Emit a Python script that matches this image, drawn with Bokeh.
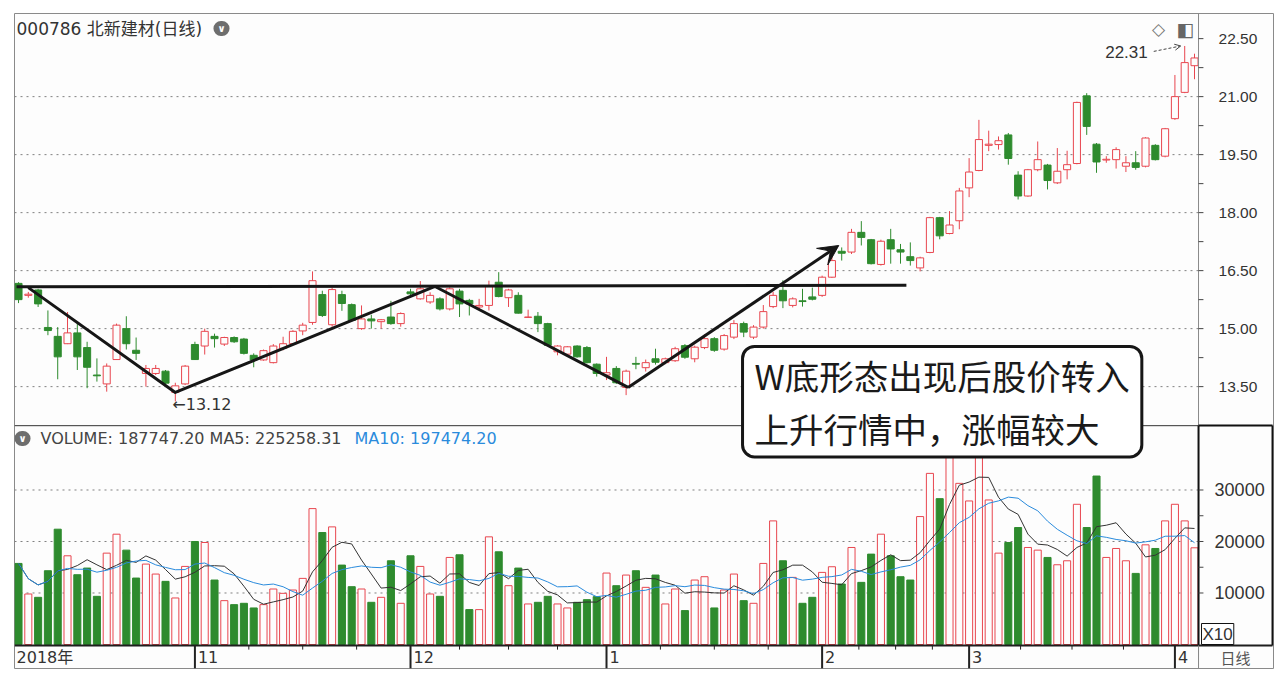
import pandas as pd
from bokeh.plotting import figure
from bokeh.models import Range1d, ColumnDataSource, Label, Arrow, VeeHead, OpenHead
from bokeh.core.properties import value
from bokeh.embed import file_html
from bokeh.resources import INLINE

# 000786 北新建材, daily bars 2018-10-08 .. 2019-04-03 (121 sessions)
opens = [16.17, 15.86, 16.00, 15.03, 14.80, 14.61, 14.89, 14.51, 13.80, 13.57,
         14.20, 15.00, 14.44, 13.84, 13.84, 13.90, 13.35, 13.57, 14.59, 14.55,
         14.80, 14.60, 14.77, 14.73, 14.31, 14.19, 14.12, 14.49, 14.61, 14.94,
         15.16, 15.88, 15.10, 15.88, 15.62, 15.00, 15.25, 15.18, 15.30, 15.13,
         15.95, 15.77, 15.69, 15.77, 15.51, 15.97, 15.73, 15.56, 15.60, 16.20,
         15.80, 15.86, 15.29, 15.32, 15.13, 14.40, 14.34, 14.55, 14.51, 14.08,
         13.80, 13.97, 13.48, 14.10, 13.99, 14.22, 14.12, 14.17, 14.56, 14.22,
         14.51, 14.74, 14.47, 14.78, 15.13, 14.78, 15.04, 15.57, 15.99, 15.60,
         15.72, 15.82, 15.86, 16.33, 17.00, 16.98, 17.49, 17.30, 16.66, 17.30,
         17.04, 16.86, 16.57, 16.97, 17.87, 17.46, 17.79, 18.64, 19.09, 19.74,
         19.76, 20.01, 18.97, 18.43, 19.11, 19.23, 18.77, 19.11, 19.27, 21.02,
         19.77, 19.36, 19.37, 19.20, 19.29, 19.20, 19.74, 19.46, 20.43, 21.11,
         21.80]
highs = [16.20, 15.95, 16.03, 15.47, 15.04, 15.43, 15.13, 14.66, 14.23, 14.10,
         15.13, 15.32, 14.77, 14.06, 14.06, 13.93, 13.60, 14.06, 14.66, 15.00,
         14.87, 14.79, 14.80, 14.76, 14.36, 14.46, 14.60, 14.79, 14.96, 15.15,
         16.48, 15.98, 16.06, 15.98, 15.65, 15.60, 15.36, 15.25, 15.72, 15.42,
         16.03, 16.23, 15.94, 15.81, 16.07, 16.03, 15.77, 15.77, 16.24, 16.46,
         16.03, 15.94, 15.49, 15.43, 15.15, 14.57, 14.55, 14.57, 14.55, 14.10,
         14.27, 14.03, 13.94, 14.27, 14.20, 14.48, 14.25, 14.53, 14.60, 14.56,
         14.85, 14.78, 14.86, 15.22, 15.18, 15.09, 15.61, 15.95, 16.25, 15.81,
         16.03, 16.06, 16.37, 16.89, 17.10, 17.58, 17.78, 17.32, 17.30, 17.58,
         17.19, 17.23, 16.86, 17.89, 17.89, 18.04, 18.64, 19.41, 20.40, 20.12,
         19.97, 20.06, 19.07, 19.13, 19.84, 19.26, 19.67, 19.60, 20.87, 21.09,
         19.80, 19.46, 19.69, 19.46, 19.59, 19.95, 19.77, 20.19, 21.56, 22.31,
         22.11]
lows = [15.66, 15.80, 15.56, 14.83, 13.69, 14.60, 13.93, 13.46, 13.63, 13.37,
        14.19, 14.46, 14.19, 13.50, 13.80, 13.55, 13.12, 13.54, 14.19, 14.33,
        14.51, 14.55, 14.63, 14.33, 14.00, 14.17, 14.10, 14.44, 14.57, 14.83,
        15.10, 15.30, 15.05, 15.46, 15.18, 14.97, 15.00, 15.00, 15.10, 15.05,
        15.81, 15.75, 15.64, 15.47, 15.47, 15.30, 15.34, 15.51, 15.47, 15.81,
        15.56, 15.39, 15.29, 14.91, 14.55, 14.31, 14.31, 14.25, 14.10, 13.76,
        13.67, 13.57, 13.28, 13.95, 13.89, 14.07, 14.08, 14.14, 14.22, 14.13,
        14.47, 14.40, 14.43, 14.73, 14.78, 14.73, 15.00, 15.53, 15.53, 15.55,
        15.57, 15.73, 15.82, 16.31, 16.76, 16.93, 17.15, 16.66, 16.63, 16.68,
        16.68, 16.63, 16.48, 16.95, 17.31, 17.44, 17.57, 18.40, 19.07, 19.59,
        19.63, 19.24, 18.34, 18.41, 19.07, 18.60, 18.74, 18.86, 19.25, 20.01,
        19.03, 19.29, 19.14, 19.05, 19.11, 19.17, 19.35, 19.43, 20.40, 21.09,
        21.45]
closes = [15.75, 15.89, 15.64, 14.95, 14.27, 14.89, 14.27, 14.00, 13.78, 14.03,
          15.09, 14.61, 14.36, 13.97, 13.97, 13.59, 13.52, 14.03, 14.20, 14.93,
          14.74, 14.77, 14.66, 14.36, 14.19, 14.43, 14.55, 14.61, 14.93, 15.09,
          16.24, 15.34, 16.01, 15.65, 15.21, 15.25, 15.20, 15.23, 15.13, 15.39,
          15.90, 16.03, 15.86, 15.51, 16.03, 15.64, 15.64, 15.60, 16.11, 15.83,
          16.00, 15.40, 15.30, 15.13, 14.57, 14.55, 14.53, 14.27, 14.12, 13.84,
          13.86, 13.60, 13.90, 14.08, 14.12, 14.13, 14.22, 14.48, 14.26, 14.52,
          14.74, 14.44, 14.82, 15.13, 14.91, 15.04, 15.44, 15.86, 15.72, 15.77,
          15.70, 15.76, 16.33, 16.76, 16.95, 17.49, 17.36, 16.68, 17.26, 17.06,
          16.98, 16.76, 16.83, 17.87, 17.40, 17.68, 18.56, 19.05, 19.89, 19.77,
          19.86, 19.40, 18.43, 19.11, 19.37, 18.83, 19.07, 19.24, 20.85, 20.23,
          19.31, 19.38, 19.63, 19.29, 19.17, 19.93, 19.37, 20.17, 21.00, 21.88,
          22.00]
# volume as drawn against the axis (axis is marked X10)
vols = [15742, 9806, 9161, 14323, 22387, 17226, 13548, 14839, 9355, 17742,
        21419, 18323, 12903, 15613, 13677, 12258, 9032, 15161, 20000, 19806,
        12516, 8516, 7742, 8000, 7097, 7742, 10774, 9935, 10581, 12839,
        26387, 21742, 22839, 15419, 11226, 10774, 8194, 9161, 16258, 8000,
        17226, 15161, 9806, 9355, 16903, 17419, 6774, 6774, 20903, 18000,
        11419, 14839, 7871, 8194, 9355, 7871, 7097, 8194, 8710, 9290,
        13871, 11419, 13484, 14323, 11097, 13484, 7871, 10774, 6581, 12516,
        13161, 7097, 10581, 13677, 8516, 8000, 15742, 24000, 16258, 13032,
        8000, 9161, 14000, 15097, 11742, 18839, 12065, 17548, 21419, 17226,
        13161, 12516, 24839, 33226, 28323, 37000, 31290, 27871, 38000, 28065,
        17742, 19806, 22710, 18839, 18323, 16903, 15484, 16258, 27226, 22710,
        32710, 16903, 18645, 16258, 13806, 19355, 18645, 24000, 27226, 24000,
        18775]

month_starts = [18, 40, 60, 82, 97, 118]
month_labels = ["11", "12", "1", "2", "3", "4"]
year_label = "2018年"

price_ticks = [13.5, 15.0, 16.5, 18.0, 19.5, 21.0, 22.5]
price_grid = [13.5, 15.0, 16.5, 18.0, 19.5, 21.0]
vol_ticks = [10000, 20000, 30000]
vol_minor = [15000, 25000]

# hand-drawn W bottom: (bar index, price)
w_x = [1.0, 16.0, 42.5, 62.2]
w_y = [16.06, 13.35, 16.09, 13.48]
w_tip = (83.7, 17.15)
neck_x = [-0.2, 90.6]
neck_y = [16.08, 16.12]

title = "000786 北新建材(日线)"
vol_text = "VOLUME: 187747.20 MA5: 225258.31"
ma10_text = "MA10: 197474.20"
note = "W底形态出现后股价转入\n上升行情中，涨幅较大"

RED = "#e8464f"
GREEN = "#2e8b2e"
BG = "#fdfdfd"
BLUE = "#2a8bdc"
INK = "#161616"
FRAME = "#8a8a8a"
UI_FONT = "DejaVu Sans, Noto Sans CJK SC"

# layout in chart units: the frame also holds the price/volume scale column
# and the date strip, so every piece can be drawn with glyphs
CHART_R = 120.41      # right edge of the candle area
CELL_R = 127.96       # right edge of the scale column
SPLIT_P = 12.49       # price panel bottom
SPLIT_V = 42520       # same line in volume units
AXIS_V = -194         # date axis line
BOTTOM_V = -4660      # bottom of the date strip
DATE_V = -2524        # date label line
PRICE_LBL_X = 122.45
VOL_LBL_X = 122.05

idx = list(range(len(opens)))
up = [c >= o for o, c in zip(opens, closes)]
vs = pd.Series(vols, dtype=float)
src = ColumnDataSource(dict(
    x=idx, high=highs, low=lows,
    top=[max(o, c) for o, c in zip(opens, closes)],
    bottom=[min(o, c) for o, c in zip(opens, closes)],
    vol=vols,
    color=[RED if u else GREEN for u in up],
    fill=[BG if u else GREEN for u in up],
    ma5=vs.rolling(5, min_periods=1).mean().tolist(),
    ma10=vs.rolling(10, min_periods=1).mean().tolist(),
))

xr = Range1d(-0.41, 128.06)
p = figure(width=1278, height=672, x_range=xr, y_range=Range1d(6.21, 23.15),
           x_axis_location=None, y_axis_location=None,
           toolbar_location=None, output_backend="svg",
           min_border_left=14, min_border_right=5, min_border_top=13, min_border_bottom=4,
           background_fill_color=BG, border_fill_color="white",
           outline_line_color=FRAME)
p.extra_y_ranges = {"vol": Range1d(-4660, 122520)}
p.grid.visible = False

# dotted grid
p.segment(x0=xr.start, x1=CHART_R, y0=price_grid, y1=price_grid,
          line_color="#808080", line_dash="2 4", line_width=1)
p.segment(x0=xr.start, x1=CHART_R, y0=vol_ticks, y1=vol_ticks, y_range_name="vol",
          line_color="#808080", line_dash="2 4", line_width=1)

# candles
p.segment("x", "low", "x", "high", source=src, line_color="color", line_width=1)
p.vbar(x="x", width=0.72, top="top", bottom="bottom", source=src,
       fill_color="fill", line_color="color", line_width=1)

# volume
p.vbar(x="x", width=0.72, top="vol", bottom=0, source=src, y_range_name="vol",
       fill_color="fill", line_color="color", line_width=1)
p.line("x", "ma5", source=src, y_range_name="vol", line_color="#333333", line_width=1)
p.line("x", "ma10", source=src, y_range_name="vol", line_color=BLUE, line_width=1)

# W bottom sketch
p.line(neck_x, neck_y, line_color=INK, line_width=3)
p.line(w_x, w_y, line_color=INK, line_width=3, line_join="round")
p.add_layout(Arrow(end=VeeHead(size=20, fill_color=INK, line_color=INK),
                   x_start=w_x[-1], y_start=w_y[-1], x_end=w_tip[0], y_end=w_tip[1],
                   line_color=INK, line_width=3))

# panel rules
p.segment(x0=xr.start, x1=CHART_R, y0=SPLIT_P, y1=SPLIT_P, line_color="#333333", line_width=1)
p.segment(x0=CHART_R, x1=CHART_R, y0=BOTTOM_V, y1=122520, y_range_name="vol",
          line_color=FRAME, line_width=1)
p.segment(x0=[CHART_R, CELL_R, CHART_R], x1=[CHART_R, CELL_R, CELL_R],
          y0=[SPLIT_V, SPLIT_V, SPLIT_V], y1=[AXIS_V, AXIS_V, SPLIT_V],
          y_range_name="vol", line_color="#111111", line_width=2)
p.segment(x0=xr.start, x1=CELL_R, y0=AXIS_V, y1=AXIS_V, y_range_name="vol",
          line_color="#1e1e1e", line_width=2)
p.segment(x0=CHART_R, x1=CHART_R, y0=AXIS_V, y1=BOTTOM_V, y_range_name="vol",
          line_color=FRAME, line_width=1)

# price scale
p.segment(x0=CHART_R, x1=CHART_R + 0.5, y0=price_ticks + [t + 0.75 for t in price_ticks[:-1]],
          y1=price_ticks + [t + 0.75 for t in price_ticks[:-1]],
          line_color="#444444", line_width=1)
p.text(x=PRICE_LBL_X, y=price_ticks, text=["%.2f" % t for t in price_ticks],
       text_font=value("Liberation Sans"), text_font_size="15.5px", text_color="#333333",
       text_align="left", text_baseline="middle")

# volume scale
p.segment(x0=CHART_R, x1=CHART_R + 0.5, y0=vol_ticks + vol_minor, y1=vol_ticks + vol_minor,
          y_range_name="vol", line_color="#444444", line_width=1)
p.text(x=VOL_LBL_X, y=vol_ticks, text=[str(v) for v in vol_ticks], y_range_name="vol",
       text_font=value("Liberation Sans"), text_font_size="18px", text_color="#333333",
       text_align="left", text_baseline="middle")
p.add_layout(Label(x=CHART_R, y=0, y_range_name="vol", x_offset=3, text="X10",
                   text_font="Liberation Sans", text_font_size="17px", text_color="#333333",
                   text_baseline="bottom", padding=1, border_line_color="#111111",
                   border_line_width=1, background_fill_color="white"))

# date strip: month separators and quarter-month ticks
quarters = []
for a, b in zip(month_starts[:-1], month_starts[1:]):
    quarters += [a + (b - a) * k / 4 for k in (1, 2, 3)]
p.segment(x0=month_starts, x1=month_starts, y0=AXIS_V, y1=BOTTOM_V, y_range_name="vol",
          line_color="#222222", line_width=2)
p.segment(x0=quarters, x1=quarters, y0=AXIS_V, y1=AXIS_V - 800, y_range_name="vol",
          line_color="#222222", line_width=1)
p.text(x=[0] + month_starts, y=DATE_V, text=[year_label] + month_labels,
       x_offset=[-2] + [3] * len(month_starts), y_range_name="vol",
       text_font=value(UI_FONT), text_font_size="16px", text_color="#333333",
       text_align="left", text_baseline="middle")
p.text(x=(CHART_R + CELL_R) / 2, y=DATE_V, text=["日线"], y_range_name="vol",
       text_font=value("Noto Sans CJK SC"), text_font_size="15px", text_color="#555555",
       text_align="center", text_baseline="middle")

# header texts (screen units from the frame's bottom-left)
p.add_layout(Label(x=2, y=640, x_units="screen", y_units="screen", text=title,
                   text_font=UI_FONT, text_font_size="17px", text_color="#333333",
                   text_baseline="middle"))
for lx, ly in [(207, 640), (8, 230)]:
    p.add_layout(Label(x=lx, y=ly, x_units="screen", y_units="screen", text="∨",
                       text_font="DejaVu Sans", text_font_size="10px", text_font_style="bold",
                       text_color="white", text_align="center", text_baseline="middle",
                       background_fill_color="#6e6e6e", border_radius=8, padding=(4, 2)))
p.add_layout(Label(x=1144, y=640, x_units="screen", y_units="screen", text="◇",
                   text_font="DejaVu Sans", text_font_size="17px", text_color="#777777",
                   text_align="center", text_baseline="middle"))
p.add_layout(Label(x=1171, y=640, x_units="screen", y_units="screen", text="◧",
                   text_font="DejaVu Sans", text_font_size="19px", text_color="#666666",
                   text_align="center", text_baseline="middle"))
p.add_layout(Label(x=26, y=230, x_units="screen", y_units="screen", text=vol_text,
                   text_font="DejaVu Sans", text_font_size="16px", text_color="#444444",
                   text_baseline="middle"))
p.add_layout(Label(x=340, y=230, x_units="screen", y_units="screen", text=ma10_text,
                   text_font="DejaVu Sans", text_font_size="16px", text_color=BLUE,
                   text_baseline="middle"))

# extreme price marks
lo_i = lows.index(min(lows))
hi_i = highs.index(max(highs))
p.add_layout(Label(x=lo_i, y=lows[lo_i], text="←%.2f" % lows[lo_i], x_offset=-3, y_offset=-3,
                   text_font="DejaVu Sans", text_font_size="16px", text_color="#333333",
                   text_baseline="middle"))
p.add_layout(Label(x=hi_i, y=highs[hi_i], text="%.2f" % highs[hi_i], x_offset=-37, y_offset=-6,
                   text_font="Liberation Sans", text_font_size="17px", text_color="#333333",
                   text_align="right", text_baseline="middle"))
p.add_layout(Arrow(end=OpenHead(size=6, line_width=1, line_color="#444444"),
                   x_start=hi_i - 3.16, y_start=highs[hi_i] - 0.14,
                   x_end=hi_i - 0.41, y_end=highs[hi_i],
                   line_color="#444444", line_width=1, line_dash="3 2"))

# call-out box (anchored at its top-left corner)
p.add_layout(Label(x=73.88, y=14.54, text=note, text_font="Noto Sans CJK SC",
                   text_font_size="34.5px", text_color="#1a1a1a", text_line_height=1.05,
                   text_align="left", text_baseline="top", padding=(12, 4),
                   border_line_color=INK, border_line_width=3, border_radius=12,
                   background_fill_color="white"))

open("out.html", "w", encoding="utf-8").write(file_html(p, INLINE, title="000786"))
